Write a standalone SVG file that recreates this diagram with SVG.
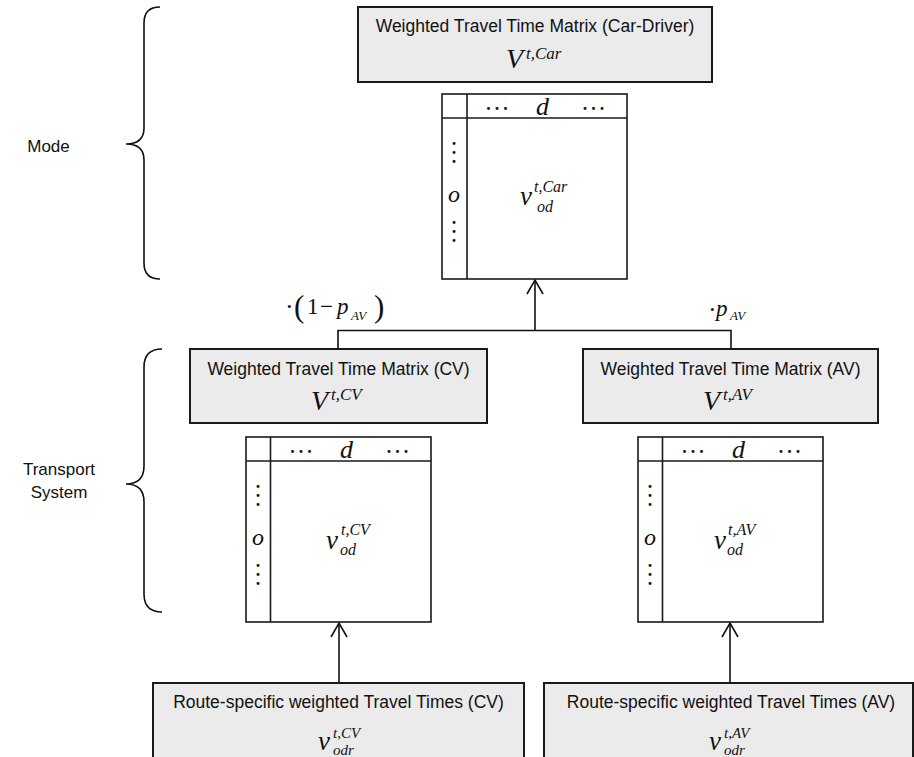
<svg xmlns="http://www.w3.org/2000/svg" width="914" height="757" viewBox="0 0 914 757">
<style>
.box{fill:#ebebeb;stroke:#1a1a1a;stroke-width:2}
.mat{fill:#fff;stroke:#1a1a1a;stroke-width:1.6}
.ml{stroke:#1a1a1a;stroke-width:1.6;fill:none}
.lbl{font-family:"Liberation Sans",Arial,sans-serif;font-size:17.5px;fill:#111;text-anchor:middle}
.side{font-family:"Liberation Sans",Arial,sans-serif;font-size:17px;fill:#111;text-anchor:middle}
.m{font-family:"Liberation Serif","Times New Roman",serif;font-style:italic;fill:#111}
.r{font-family:"Liberation Serif","Times New Roman",serif;fill:#111}
.dots{font-family:"Liberation Serif","Times New Roman",serif;font-size:18px;font-weight:bold;fill:#111}
.conn{stroke:#111;stroke-width:1.6;fill:none}
.brace{stroke:#111;stroke-width:1.6;fill:none}
</style>
<defs>
<marker id="arr" viewBox="-16 -10 18 20" refX="0" refY="0" markerWidth="18" markerHeight="20" markerUnits="userSpaceOnUse" orient="auto">
<path d="M-14,-8 L0,0 L-14,8" fill="none" stroke="#111" stroke-width="1.6"/>
</marker>
</defs>

<g id="brace-mode">
<path class="brace" d="M160,7 Q144,7 144,23 L144,128 Q144,144 126,144 Q144,144 144,160 L144,263 Q144,279 160,279"/>
<text class="side" x="48.5" y="152">Mode</text>
</g>
<g id="brace-transport">
<path class="brace" d="M162,349 Q144,349 144,367 L144,466 Q144,484 126,484 Q144,484 144,502 L144,594 Q144,612 162,612"/>
<text class="side" x="59" y="475">Transport</text>
<text class="side" x="59" y="498">System</text>
</g>

<g id="connectors">
<path class="conn" d="M338,349 L338,330.5 L731,330.5 L731,349"/>
<path class="conn" d="M535,330.5 L535,280" marker-end="url(#arr)"/>
<path class="conn" d="M339,683 L339,623" marker-end="url(#arr)"/>
<path class="conn" d="M730,683 L730,623" marker-end="url(#arr)"/>
<g id="label-1-pav">
<text class="r" x="285" y="315" font-size="26">·</text>
<text class="r" x="294" y="317" font-size="31">(</text>
<text class="r" x="307" y="314" font-size="23">1</text>
<text class="r" x="320" y="314" font-size="23">−</text>
<text class="m" x="337" y="314" font-size="23">p</text>
<text class="m" x="351" y="320" font-size="13">AV</text>
<text class="r" x="374" y="317" font-size="31">)</text>
</g>
<g id="label-pav">
<text class="r" x="708" y="318" font-size="26">·</text>
<text class="m" x="716" y="316" font-size="23">p</text>
<text class="m" x="730" y="320" font-size="13">AV</text>
</g>
</g>

<g id="box-car">
<rect class="box" x="358" y="7" width="354" height="75"/>
<text class="lbl" x="535" y="32">Weighted Travel Time Matrix (Car-Driver)</text>
<text class="m" x="506" y="68" font-size="28">V</text>
<text class="m" x="526" y="59" font-size="17">t,Car</text>
</g>

<g id="matrix-car">
<rect class="mat" x="442" y="94" width="185" height="185"/>
<path class="ml" d="M467,94 L467,279 M442,118 L627,118"/>
<text class="dots" x="486.25 494.75 503.25" y="110.3">...</text>
<text class="dots" x="582.75 591.25 599.75" y="110.3">...</text>
<text class="m" x="536" y="115" font-size="26">d</text>
<text class="dots" x="451.75 451.75 451.75" y="145.3 154.3 163.3">...</text>
<text class="m" x="448" y="202" font-size="24">o</text>
<text class="dots" x="451.75 451.75 451.75" y="224.3 233.3 242.3">...</text>
<text class="m" x="520" y="205" font-size="27">v</text>
<text class="m" x="534" y="192" font-size="16">t,Car</text>
<text class="m" x="537" y="212" font-size="16">od</text>
</g>

<g id="box-cv">
<rect class="box" x="190" y="349" width="297" height="74"/>
<text class="lbl" x="338.5" y="375">Weighted Travel Time Matrix (CV)</text>
<text class="m" x="311" y="410" font-size="28">V</text>
<text class="m" x="331" y="400" font-size="17">t,CV</text>
</g>

<g id="matrix-cv">
<rect class="mat" x="246" y="437" width="185" height="185"/>
<path class="ml" d="M270.5,437 L270.5,622 M246,461 L431,461"/>
<text class="dots" x="290.25 298.75 307.25" y="453.3">...</text>
<text class="dots" x="386.75 395.25 403.75" y="453.3">...</text>
<text class="m" x="340" y="458" font-size="26">d</text>
<text class="dots" x="255.75 255.75 255.75" y="488.3 497.3 506.3">...</text>
<text class="m" x="252" y="545" font-size="24">o</text>
<text class="dots" x="255.75 255.75 255.75" y="567.3 576.3 585.3">...</text>
<text class="m" x="326" y="549" font-size="27">v</text>
<text class="m" x="341" y="535" font-size="16">t,CV</text>
<text class="m" x="340" y="555" font-size="16">od</text>
</g>

<g id="box-av">
<rect class="box" x="583" y="349" width="295" height="74"/>
<text class="lbl" x="730.5" y="375">Weighted Travel Time Matrix (AV)</text>
<text class="m" x="703" y="410" font-size="28">V</text>
<text class="m" x="723" y="400" font-size="17">t,AV</text>
</g>

<g id="matrix-av">
<rect class="mat" x="638" y="437" width="185" height="185"/>
<path class="ml" d="M662.5,437 L662.5,622 M638,461 L823,461"/>
<text class="dots" x="682.25 690.75 699.25" y="453.3">...</text>
<text class="dots" x="778.75 787.25 795.75" y="453.3">...</text>
<text class="m" x="732" y="458" font-size="26">d</text>
<text class="dots" x="647.75 647.75 647.75" y="488.3 497.3 506.3">...</text>
<text class="m" x="644" y="545" font-size="24">o</text>
<text class="dots" x="647.75 647.75 647.75" y="567.3 576.3 585.3">...</text>
<text class="m" x="714" y="549" font-size="27">v</text>
<text class="m" x="728" y="535" font-size="16">t,AV</text>
<text class="m" x="727" y="555" font-size="16">od</text>
</g>

<g id="route-cv">
<rect class="box" x="153" y="683" width="371" height="84"/>
<text class="lbl" x="338.5" y="708">Route-specific weighted Travel Times (CV)</text>
<text class="m" x="318" y="750" font-size="27">v</text>
<text class="m" x="333" y="738" font-size="15">t,CV</text>
<text class="m" x="333" y="755" font-size="15">odr</text>
</g>

<g id="route-av">
<rect class="box" x="544" y="683" width="369" height="84"/>
<text class="lbl" x="731" y="708">Route-specific weighted Travel Times (AV)</text>
<text class="m" x="709" y="750" font-size="27">v</text>
<text class="m" x="724" y="738" font-size="15">t,AV</text>
<text class="m" x="724" y="755" font-size="15">odr</text>
</g>
</svg>
